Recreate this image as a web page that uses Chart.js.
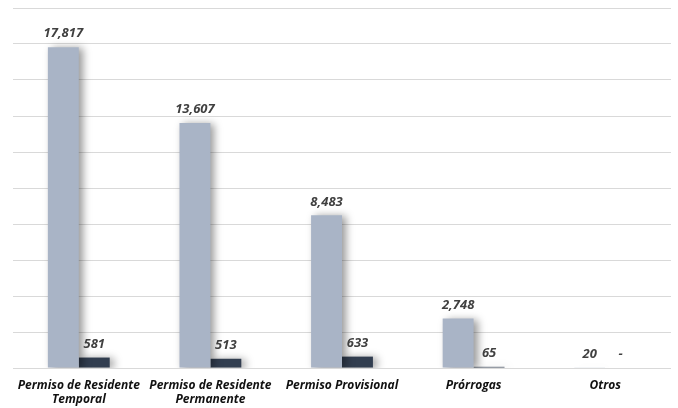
<!DOCTYPE html>
<html>
<head>
<meta charset="utf-8">
<script src="https://cdn.jsdelivr.net/npm/chart.js@4/dist/chart.umd.min.js"></script>
<style>
  html, body { margin: 0; padding: 0; background: #fff; }
  #wrap { width: 678px; height: 408px; }
</style>
</head>
<body>
<div id="wrap"><canvas id="chart"></canvas></div>
<script>
const categories = [
    ["Permiso de Residente", "Temporal"],
    ["Permiso de Residente", "Permanente"],
    "Permiso Provisional",
    "Prórrogas",
    "Otros"
];
const seriesA = [17817, 13607, 8483, 2748, 20];
const seriesB = [581, 513, 633, 65, 0];

const FONT = "'Open Sans', 'Noto Sans', sans-serif";

// soft shadow to the right of bars
const shadowPlugin = {
    id: "barShadow",
    beforeDatasetsDraw(chart) {
        const ctx = chart.ctx;
        ctx.save();
        ctx.shadowColor = "rgba(0,0,0,0.4)";
        ctx.shadowBlur = 8;
        ctx.shadowOffsetX = 4;
        ctx.shadowOffsetY = 1;
    },
    afterDatasetsDraw(chart) {
        chart.ctx.restore();
    }
};

// value labels above bars
const valueLabels = {
    id: "valueLabels",
    afterDatasetsDraw(chart) {
        const ctx = chart.ctx;
        ctx.save();
        ctx.font = "italic bold 13px " + FONT;
        ctx.fillStyle = "#404040";
        ctx.textAlign = "center";
        ctx.textBaseline = "bottom";
        chart.data.datasets.forEach((ds, i) => {
            const meta = chart.getDatasetMeta(i);
            meta.data.forEach((bar, j) => {
                const v = ds.data[j];
                const txt = v === 0 ? "-" : v.toLocaleString("en-US");
                ctx.fillText(txt, bar.x, bar.y - 7);
            });
        });
        ctx.restore();
    }
};

const ctx = document.getElementById("chart").getContext("2d");

let myChart = new Chart(ctx, {
    type: "bar",
    data: {
        labels: categories,
        datasets: [{
            label: "A",
            data: seriesA,
            backgroundColor: "#A9B4C6",
            categoryPercentage: 0.47,
            barPercentage: 1.0,
        }, {
            label: "B",
            data: seriesB,
            backgroundColor: "#323E50",
            categoryPercentage: 0.47,
            barPercentage: 1.0,
        }],
    },
    options: {
        responsive: true,
        maintainAspectRatio: false,
        animation: false,
        layout: { padding: { left: 13, right: 7, top: 8, bottom: 0 } },
        plugins: {
            legend: { display: false },
            tooltip: { enabled: false },
        },
        scales: {
            x: {
                grid: { display: false },
                border: { display: false },
                ticks: {
                    color: "#111",
                    font: { family: FONT, size: 12, style: "italic", weight: "bold", lineHeight: 1.17 },
                    maxRotation: 0,
                    autoSkip: false,
                    padding: 3,
                },
                afterFit(scale) { scale.height = 40; },
            },
            y: {
                min: 0,
                max: 20000,
                ticks: { display: false, stepSize: 2000 },
                border: { display: false },
                grid: { color: "#d9d9d9", lineWidth: 1, drawTicks: false },
                afterFit(scale) { scale.width = 0; },
            },
        },
    },
    plugins: [shadowPlugin, valueLabels],
});
</script>
</body>
</html>
